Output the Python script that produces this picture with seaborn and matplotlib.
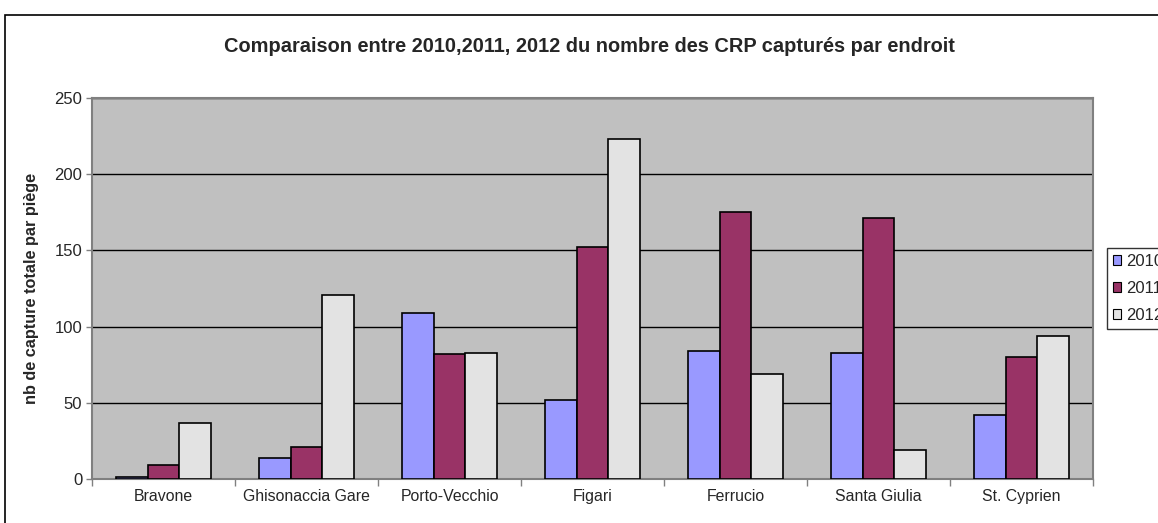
import numpy as np
import pandas as pd
import matplotlib
matplotlib.use("Agg")
import matplotlib.pyplot as plt
import seaborn as sns
from matplotlib.patches import Rectangle

endroits = ["Bravone", "Ghisonaccia Gare", "Porto-Vecchio", "Figari",
            "Ferrucio", "Santa Giulia", "St. Cyprien"]
annees = ["2010", "2011", "2012"]
v2010 = [1, 14, 109, 52, 84, 83, 42]
v2011 = [9, 21, 82, 152, 175, 171, 80]
v2012 = [37, 121, 83, 223, 69, 19, 94]
couleurs = ["#9999FF", "#993366", "#E3E3E3"]

df = pd.DataFrame({
    "endroit": endroits * 3,
    "annee": [a for a in annees for _ in endroits],
    "captures": v2010 + v2011 + v2012,
})

sns.set_style("white")
plt.rcParams["font.family"] = ["Liberation Sans", "DejaVu Sans"]

W, H = 1158, 523
fig = plt.figure(figsize=(W / 100, H / 100), dpi=100)
ax = fig.add_axes([92 / W, 1 - 479 / H, (1093 - 92) / W, (479 - 98) / H])

# cadre extérieur du graphique (coupé à droite et en bas)
fig.patches.append(Rectangle((5 / W, -0.05), 1.0, 1 - 15 / H + 0.05,
                             transform=fig.transFigure, fill=False,
                             edgecolor="black", linewidth=1.2))

sns.barplot(data=df, x="endroit", y="captures", hue="annee", palette=couleurs,
            saturation=1, width=0.66, gap=0, edgecolor="black", linewidth=1.2,
            ax=ax, legend=False, zorder=3)

ax.set_facecolor("#C0C0C0")
ax.set_ylim(0, 250)
ax.set_xlim(-0.5, 6.5)
ax.set_yticks([0, 50, 100, 150, 200, 250])
ax.yaxis.grid(True, color="black", linewidth=1, zorder=1)
ax.set_axisbelow(True)
ax.tick_params(axis="y", length=4, width=1, color="#808080", labelsize=12, left=True, pad=3)
ax.tick_params(axis="x", which="major", length=0, labelsize=11.4, pad=7.2)
ax.set_xticks(np.arange(-0.5, 7, 1), minor=True)
ax.tick_params(axis="x", which="minor", length=5, width=1, color="#808080", bottom=True)

for s in ["top", "right", "left", "bottom"]:
    ax.spines[s].set_color("#808080")
    ax.spines[s].set_linewidth(1.5)

ax.set_xlabel("")
ax.set_ylabel("nb de capture totale par piège", fontsize=11.7, fontweight="bold", labelpad=11)

fig.text(589.5 / W, 1 - 47 / H,
         "Comparaison entre 2010,2011, 2012 du nombre des CRP capturés par endroit",
         ha="center", va="center", fontsize=14.4, fontweight="bold")

# légende coupée au bord droit, comme dans l'original
handles = [Rectangle((0, 0), 1, 1, facecolor=c, edgecolor="black", linewidth=0.8) for c in couleurs]
leg = fig.legend(handles, annees, loc="upper left", bbox_to_anchor=(1107 / W, 1 - 248 / H),
                 frameon=True, fancybox=False, edgecolor="black", fontsize=12,
                 handlelength=0.5, handleheight=0.55, handletextpad=0.3,
                 labelspacing=0.72, borderpad=0.35, borderaxespad=0)
leg.get_frame().set_linewidth(1)

fig.savefig("out.png", dpi=100)
